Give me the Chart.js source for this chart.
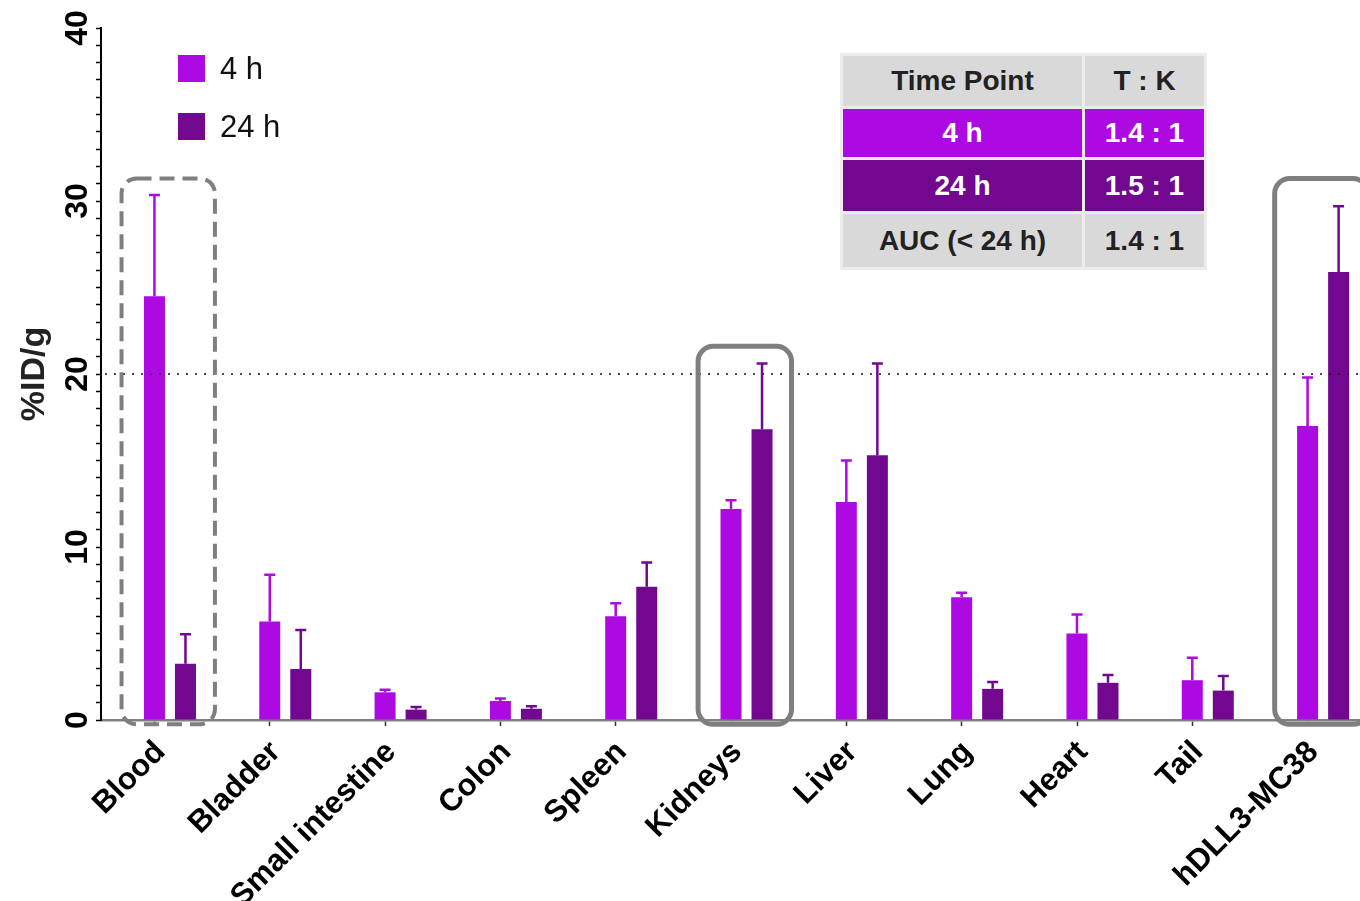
<!DOCTYPE html>
<html>
<head>
<meta charset="utf-8">
<script src="https://cdn.jsdelivr.net/npm/chart.js@4"></script>
<style>
  html, body { margin: 0; padding: 0; background: #fff; overflow: hidden; }
  #wrap { position: relative; width: 1360px; height: 901px; }
  #legend { position: absolute; left: 178px; top: 55px; font-family: "Liberation Sans", Arial, sans-serif; font-size: 31px; color: #111; }
  #legend div { display: flex; align-items: center; height: 27px; margin-bottom: 31px; }
  #legend span.sw { display: inline-block; width: 27px; height: 27px; margin-right: 15px; }
  #tbl { position: absolute; left: 840px; top: 53px; border-collapse: separate; border-spacing: 3px; background: #ececec;
         font-family: "Liberation Sans", Arial, sans-serif; font-weight: bold; font-size: 28px; text-align: center; }
  #tbl td { padding: 0; background: #d9d9d9; color: #222; }
  #tbl td.c1 { width: 239px; }
  #tbl td.c2 { width: 119px; }
</style>
</head>
<body>
<div id="wrap">
  <canvas id="chart" width="1360" height="901"></canvas>
  <div id="legend"></div>
  <table id="tbl"></table>
</div>
<script>
const organs = ['Blood', 'Bladder', 'Small intestine', 'Colon', 'Spleen', 'Kidneys', 'Liver', 'Lung', 'Heart', 'Tail', 'hDLL3-MC38'];
const series = ['4 h', '24 h'];
const colors = ['#ad0ae3', '#72088f'];

const mean4h  = [24.5, 5.7, 1.6, 1.1, 6.0, 12.2, 12.6, 7.1, 5.0, 2.3, 17.0];
const sd4h    = [5.85, 2.7, 0.15, 0.15, 0.75, 0.5, 2.4, 0.25, 1.1, 1.3, 2.8];
const mean24h = [3.25, 2.95, 0.6, 0.65, 7.7, 16.8, 15.3, 1.8, 2.15, 1.7, 25.9];
const sd24h   = [1.7, 2.25, 0.15, 0.15, 1.4, 3.8, 5.3, 0.4, 0.45, 0.85, 3.8];

const yTicks = [0, 10, 20, 30, 40];
const refLine = 20;

// ratio table (tumour : kidney)
const tableHead = ['Time Point', 'T : K'];
const tableRows = [['4 h', '1.4 : 1'], ['24 h', '1.5 : 1'], ['AUC (< 24 h)', '1.4 : 1']];
const tableFill = [colors[0], colors[1], null];

// highlighted organs: [index, dashed, top value]
const boxes = [[0, true, 31.3], [5, false, 21.6], [10, false, 31.3]];

// x ticks sit under the 4 h bar, like the original
const tickShift = -0.134;

const $ = q => document.querySelector(q);

$('#legend').innerHTML = series.map((s, i) =>
  `<div><span class="sw" style="background:${colors[i]}"></span>${s}</div>`).join('');

let html = `<tr style="height:50px">${tableHead.map((h, j) => `<td class="c${j + 1}">${h}</td>`).join('')}</tr>`;
tableRows.forEach((r, i) => {
  const st = tableFill[i] ? `background:${tableFill[i]};color:#fff` : '';
  const h = [48, 51, 53][i];
  html += `<tr style="height:${h}px">${r.map((c, j) => `<td class="c${j + 1}" style="${st}">${c}</td>`).join('')}</tr>`;
});
$('#tbl').innerHTML = html;

const errs = [sd4h, sd24h];

const extras = {
  id: 'extras',
  afterDatasetsDraw(chart) {
    const ctx = chart.ctx;
    const x = chart.scales.x, y = chart.scales.y;
    const area = chart.chartArea;

    // reference line
    ctx.save();
    ctx.strokeStyle = '#111';
    ctx.lineWidth = 1.6;
    ctx.setLineDash([2, 7]);
    ctx.beginPath();
    ctx.moveTo(area.left + 4, y.getPixelForValue(refLine));
    ctx.lineTo(area.right, y.getPixelForValue(refLine));
    ctx.stroke();
    ctx.restore();

    // error bars
    chart.data.datasets.forEach((ds, di) => {
      const meta = chart.getDatasetMeta(di);
      meta.data.forEach((bar, i) => {
        const top = y.getPixelForValue(ds.data[i].y + errs[di][i]);
        ctx.save();
        ctx.strokeStyle = colors[di];
        ctx.lineWidth = 2.5;
        ctx.beginPath();
        ctx.moveTo(bar.x, bar.y);
        ctx.lineTo(bar.x, top);
        ctx.moveTo(bar.x - 5.5, top);
        ctx.lineTo(bar.x + 5.5, top);
        ctx.stroke();
        ctx.restore();
      });
    });

    // highlight boxes
    boxes.forEach(([i, dashed, topVal]) => {
      const l = x.getPixelForValue(i - 0.42), r = x.getPixelForValue(i + 0.39);
      const t = y.getPixelForValue(topVal), b = y.getPixelForValue(-0.25);
      ctx.save();
      ctx.strokeStyle = '#7f7f7f';
      ctx.lineWidth = dashed ? 4 : 5;
      if (dashed) ctx.setLineDash([15, 8]);
      ctx.beginPath();
      ctx.roundRect(l, t, r - l, b - t, 15);
      ctx.stroke();
      ctx.restore();
    });
  }
};

new Chart($('#chart'), {
  type: 'bar',
  data: {
    datasets: series.map((s, di) => ({
      label: s,
      data: (di ? mean24h : mean4h).map((v, i) => ({ x: i, y: v })),
      backgroundColor: colors[di],
      categoryPercentage: 0.538,
      barPercentage: 0.677
    }))
  },
  options: {
    responsive: false,
    devicePixelRatio: 1,
    animation: false,
    layout: { padding: { top: 28, right: 0, left: 0, bottom: 0 } },
    plugins: { legend: { display: false }, tooltip: { enabled: false } },
    scales: {
      x: {
        type: 'linear',
        offset: false,
        min: -0.598,
        max: 10.32,
        afterBuildTicks: s => { s.ticks = organs.map((_, i) => ({ value: i + tickShift })); },
        afterFit: s => { s.height = 181; s.paddingLeft = 0; s.paddingRight = 0; },
        border: { color: '#808080', width: 2.5 },
        grid: { offset: false, drawOnChartArea: false, color: '#333', tickLength: 6, tickWidth: 1.5 },
        ticks: {
          autoSkip: false,
          minRotation: 45,
          maxRotation: 45,
          padding: 8,
          labelOffset: 6,
          color: '#000',
          font: { family: 'Liberation Sans', size: 31, weight: 'bold' },
          callback: v => organs[Math.round(v - tickShift)]
        }
      },
      y: {
        min: 0,
        max: 40,
        afterBuildTicks: s => {
          s.ticks = [];
          for (let v = 0; v <= 40; v++) s.ticks.push({ value: v });
        },
        afterFit: s => { s.width = 101; },
        border: { color: '#000', width: 2 },
        grid: { drawOnChartArea: false, color: '#000', tickLength: 5, tickWidth: 1.5 },
        ticks: {
          autoSkip: false,
          minRotation: 90,
          maxRotation: 90,
          crossAlign: 'center',
          padding: 0,
          color: '#000',
          font: { family: 'Liberation Sans', size: 32, weight: 'bold' },
          callback: v => yTicks.includes(v) ? v : ''
        },
        title: {
          display: true,
          text: '%ID/g',
          color: '#222',
          padding: { top: 14, bottom: 0 },
          font: { family: 'Liberation Sans', size: 34, weight: 'bold' }
        }
      }
    }
  },
  plugins: [extras]
});
</script>
</body>
</html>
